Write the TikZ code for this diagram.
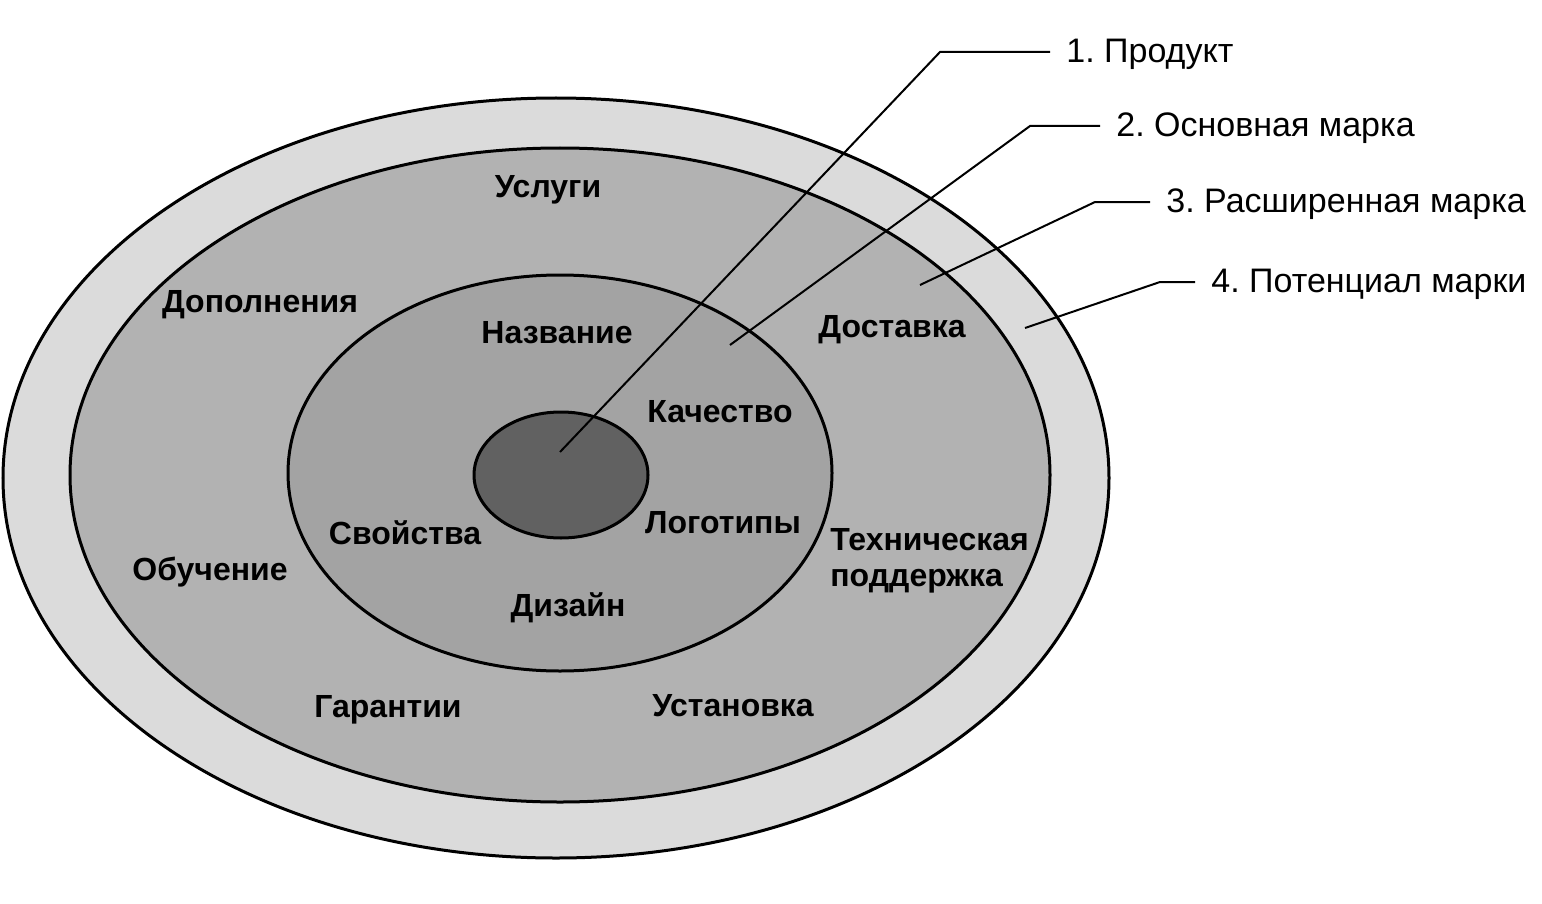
\documentclass[tikz,border=0pt]{standalone}
\usepackage{fontspec}
\setmainfont{Liberation Sans}
\usetikzlibrary{calc}
\frenchspacing

\tikzset{
  ring/.style={draw=black, line width=1.5pt},
  lab/.style={font=\bfseries\fontsize{16}{18}\selectfont, inner sep=1pt},
  keylab/.style={font=\fontsize{17}{19}\selectfont, anchor=west, inner sep=0pt},
  leader/.style={black, line width=1pt}
}

\begin{document}
\begin{tikzpicture} [x=0.5pt, y=-0.5pt]
\useasboundingbox (0,0) rectangle (1542,904);
\fill[white] (0,0) rectangle (1542,904);
\draw[ring, fill=black!14] (556,478) ellipse [x radius=553, y radius=380];
\draw[ring, fill=black!30] (560,475) ellipse [x radius=490, y radius=327];
\draw[ring, fill=black!36] (560,473) ellipse [x radius=272, y radius=198];
\draw[ring, fill=black!62] (561,475) ellipse [x radius=87, y radius=63];

\node[lab] (uslugi)  at (548,190) {Услуги};
\node[lab] (dopoln)  at (260,305) {Дополнения};
\node[lab] (nazv)    at (557,333) {Название};
\node[lab] (dostav)  at (892,330) {Доставка};
\node[lab] (kach)    at (720,412) {Качество};
\node[lab] (svoj)    at (405,533) {Свойства};
\node[lab] (logo)    at (723,523) {Логотипы};
\node[lab, align=left, anchor=west] (tehn) at (828,561) {Техническая\\поддержка};
\node[lab] (obuch)   at (210,572) {Обучение};
\node[lab] (dizajn)  at (568,608) {Дизайн};
\node[lab] (garant)  at (388,710) {Гарантии};
\node[lab] (ustan)   at (733,706) {Установка};

\foreach \n/\tx/\ty/\bx/\ex/\txt in {
  1/560/452/940/1050/{1. Продукт},
  2/730/345/1030/1100/{2. Основная марка},
  3/920/285/1095/1150/{3. Расширенная марка},
  4/1025/328/1160/1195/{4. Потенциал марки}} {
 \pgfmathsetmacro{\ly}{\n==1 ? 52 : (\n==2 ? 126 : (\n==3 ? 202 : 282))}
 \coordinate (tip\n) at (\tx,\ty);
 \coordinate (bend\n) at (\bx,\ly);
 \node[keylab] (key\n) at (\ex+16,\ly+2) {\txt};
 \draw[leader] (tip\n) -- (bend\n) -- ($(key\n.west)+(-16,-2)$);
}
\end{tikzpicture}
\end{document}
